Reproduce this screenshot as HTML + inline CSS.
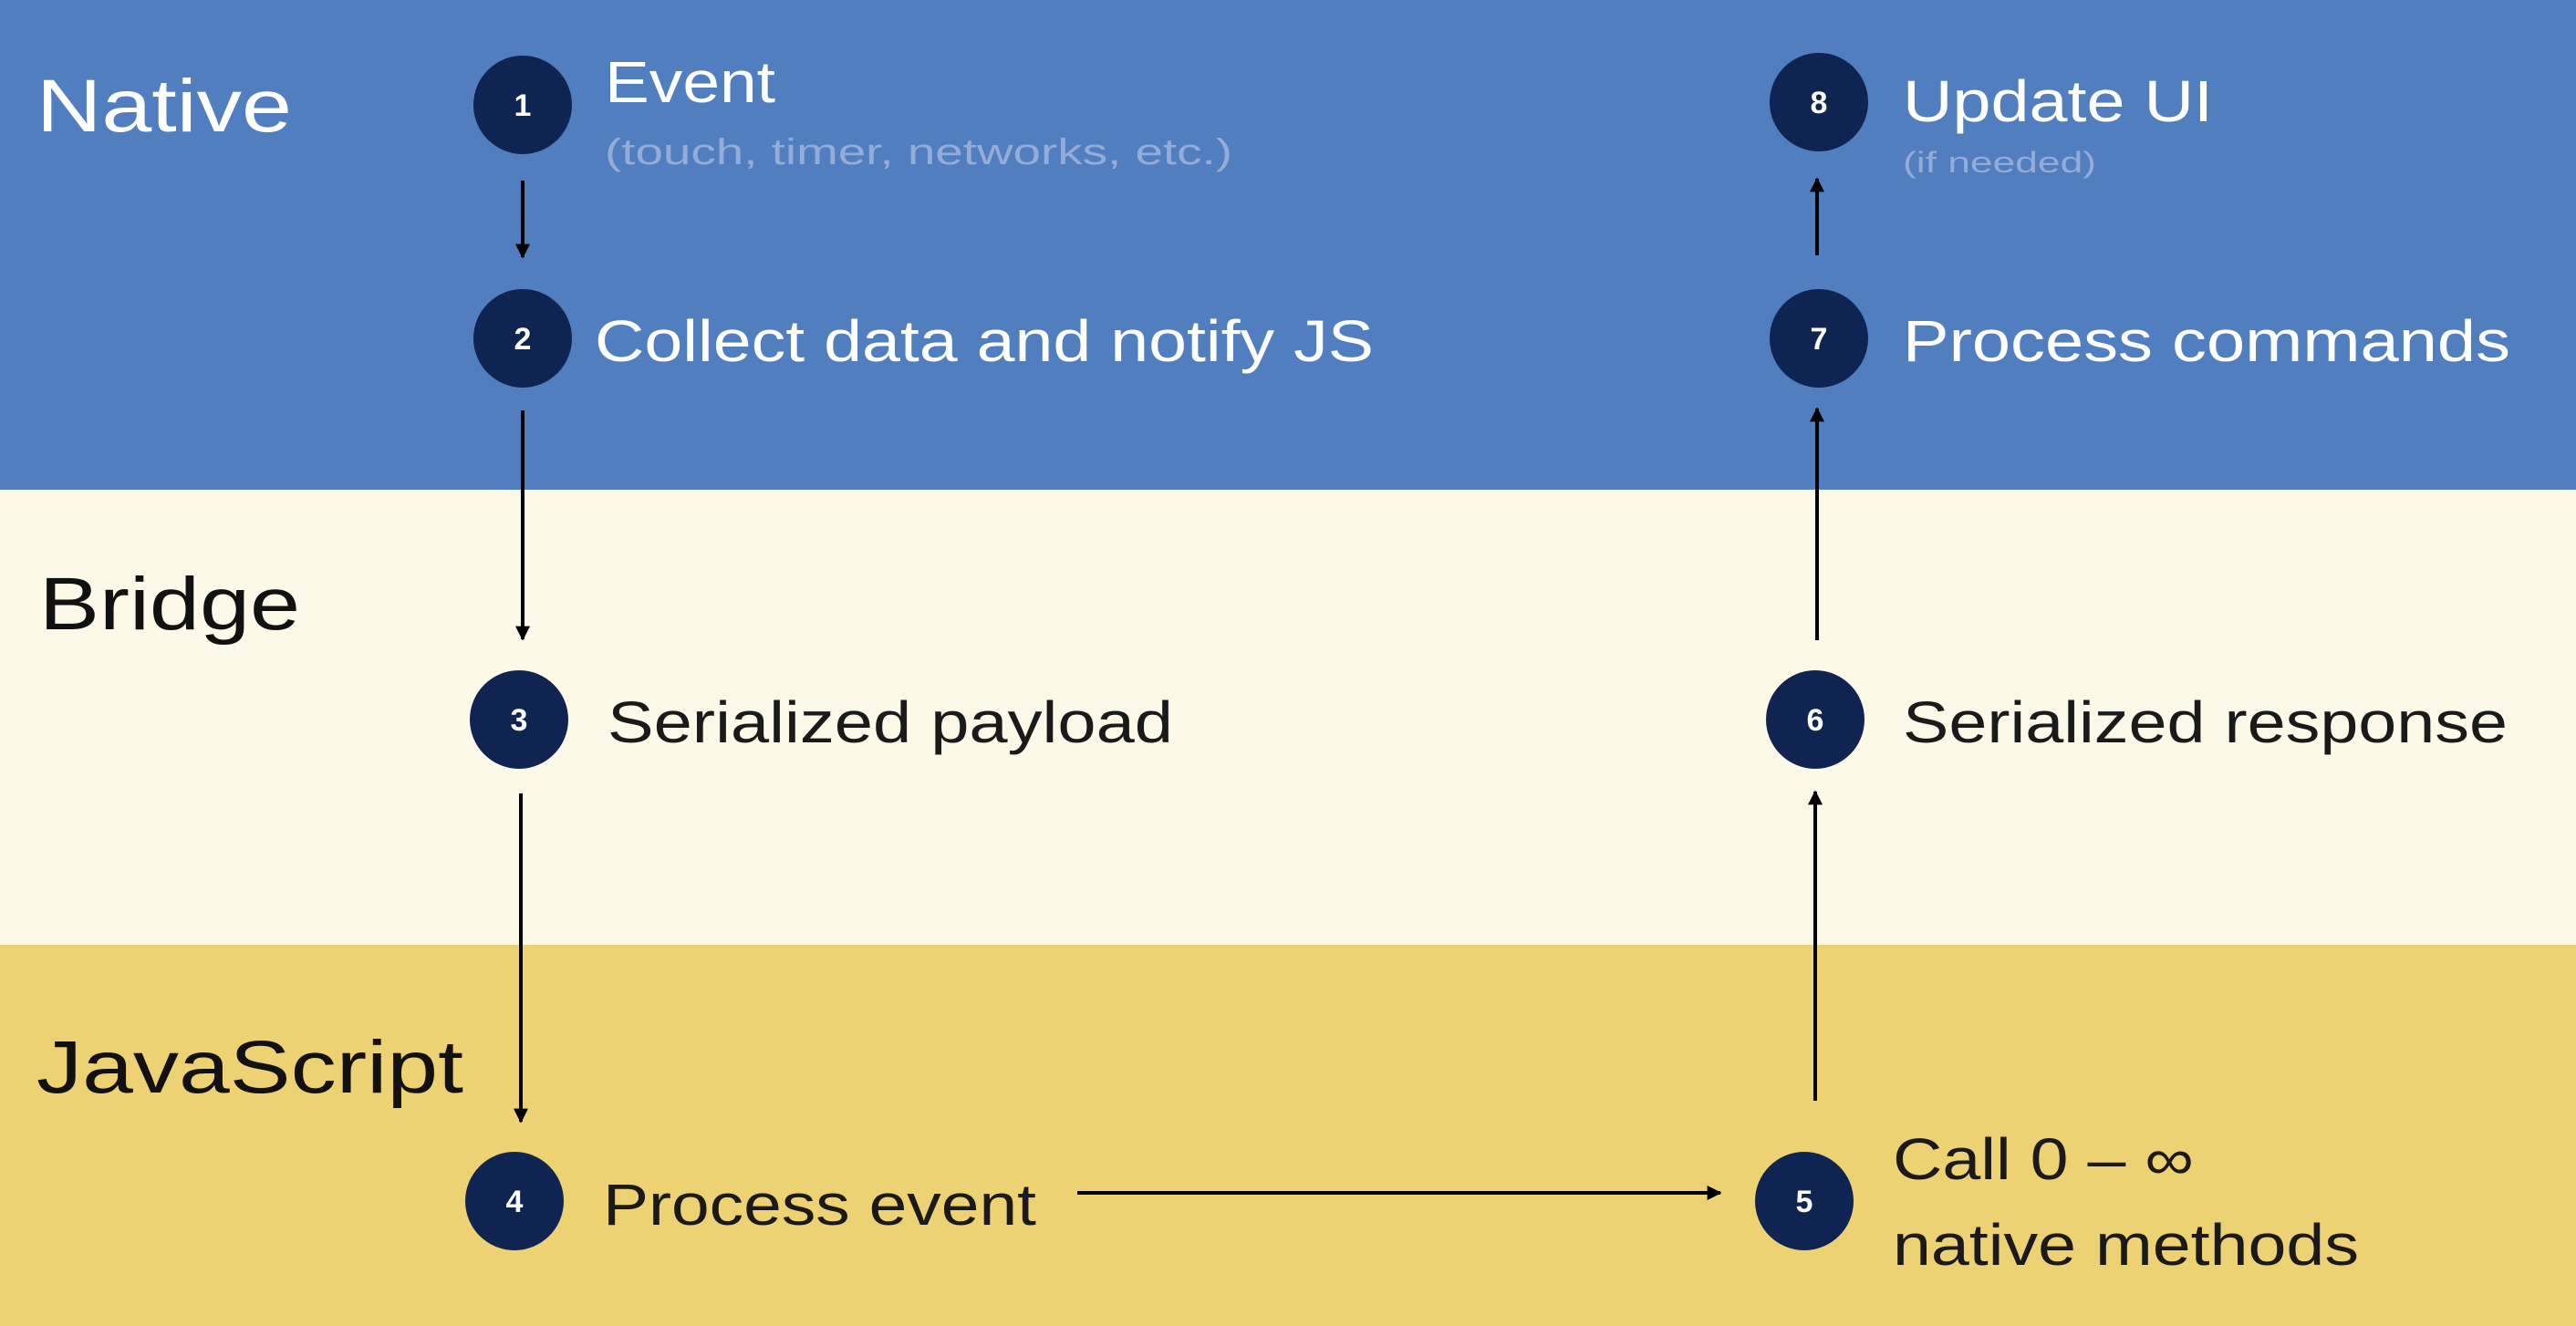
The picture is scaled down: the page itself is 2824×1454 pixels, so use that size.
<!DOCTYPE html>
<html><head><meta charset="utf-8"><style>
html,body{margin:0;padding:0;width:2824px;height:1454px;overflow:hidden;}
svg{display:block;}
text{font-family:"Liberation Sans",sans-serif;}
</style></head><body>
<svg width="2824" height="1454" viewBox="0 0 2824 1454" xmlns="http://www.w3.org/2000/svg">
<defs>
<marker id="ah" viewBox="0 0 10 10" refX="9" refY="5" markerWidth="4" markerHeight="4" orient="auto" markerUnits="strokeWidth">
<path d="M0,0 L10,5 L0,10 z" fill="#000"/>
</marker>
</defs>
<rect x="0" y="0" width="2824" height="537" fill="#517ebf"/>
<rect x="0" y="537" width="2824" height="499" fill="#fdf9e8"/>
<rect x="0" y="1036" width="2824" height="418" fill="#edd273"/>

<text x="40" y="144" font-size="82" fill="#fff" textLength="280" lengthAdjust="spacingAndGlyphs">Native</text>
<text x="43" y="690" font-size="82" fill="#111" textLength="286" lengthAdjust="spacingAndGlyphs">Bridge</text>
<text x="40" y="1198" font-size="82" fill="#111" textLength="468" lengthAdjust="spacingAndGlyphs">JavaScript</text>

<g stroke="#000" stroke-width="4" fill="none" marker-end="url(#ah)">
<line x1="573" y1="198" x2="573" y2="282"/>
<line x1="573" y1="450" x2="573" y2="701"/>
<line x1="571" y1="870" x2="571" y2="1230"/>
<line x1="1181" y1="1308" x2="1886" y2="1308"/>
<line x1="1990" y1="1207" x2="1990" y2="868"/>
<line x1="1992" y1="702" x2="1992" y2="448"/>
<line x1="1992" y1="280" x2="1992" y2="196"/>
</g>

<g fill="#0f2450">
<circle cx="573" cy="115" r="54"/>
<circle cx="573" cy="371" r="54"/>
<circle cx="569" cy="789" r="54"/>
<circle cx="564" cy="1317" r="54"/>
<circle cx="1978" cy="1317" r="54"/>
<circle cx="1990" cy="789" r="54"/>
<circle cx="1994" cy="371" r="54"/>
<circle cx="1994" cy="112" r="54"/>
</g>
<g fill="#fff" font-size="34" font-weight="bold" text-anchor="middle">
<text x="573" y="127">1</text>
<text x="573" y="383">2</text>
<text x="569" y="801">3</text>
<text x="564" y="1329">4</text>
<text x="1978" y="1329">5</text>
<text x="1990" y="801">6</text>
<text x="1994" y="383">7</text>
<text x="1994" y="124">8</text>
</g>

<g font-size="64">
<text x="663" y="112" fill="#fff" textLength="187" lengthAdjust="spacingAndGlyphs">Event</text>
<text x="663" y="180" font-size="40" fill="#93acd8" textLength="688" lengthAdjust="spacingAndGlyphs">(touch, timer, networks, etc.)</text>
<text x="652" y="396" fill="#fff" textLength="854" lengthAdjust="spacingAndGlyphs">Collect data and notify JS</text>
<text x="666" y="814" fill="#1a1a1a" textLength="620" lengthAdjust="spacingAndGlyphs">Serialized payload</text>
<text x="661" y="1343" fill="#1a1a1a" textLength="475" lengthAdjust="spacingAndGlyphs">Process event</text>
<text x="2075" y="1293" fill="#1a1a1a" textLength="330" lengthAdjust="spacingAndGlyphs">Call 0 – ∞</text>
<text x="2075" y="1387" fill="#1a1a1a" textLength="511" lengthAdjust="spacingAndGlyphs">native methods</text>
<text x="2086" y="814" fill="#1a1a1a" textLength="663" lengthAdjust="spacingAndGlyphs">Serialized response</text>
<text x="2086" y="396" fill="#fff" textLength="666" lengthAdjust="spacingAndGlyphs">Process commands</text>
<text x="2086" y="133" fill="#fff" textLength="340" lengthAdjust="spacingAndGlyphs">Update UI</text>
<text x="2086" y="189" font-size="32" fill="#93acd8" textLength="212" lengthAdjust="spacingAndGlyphs">(if needed)</text>
</g>
</svg>
</body></html>
